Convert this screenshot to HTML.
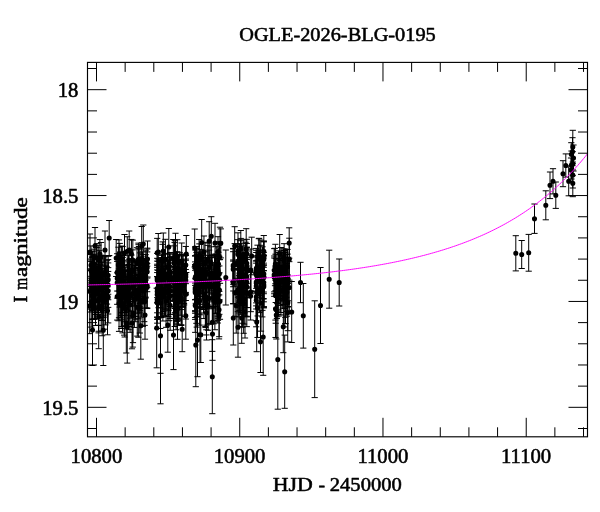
<!DOCTYPE html>
<html><head><meta charset="utf-8"><title>OGLE-2026-BLG-0195</title>
<style>
html,body{margin:0;padding:0;background:#fff;}
svg{display:block;font-family:"Liberation Serif",serif;fill:#000;}
text{stroke:#000;stroke-width:0.55px;stroke-linejoin:round;}
</style></head>
<body>
<svg width="600" height="512" viewBox="0 0 600 512" style="will-change:transform">
<rect x="0" y="0" width="600" height="512" fill="#fff"/>
<text x="239.2" y="40.7" font-size="19.8" textLength="196.6" lengthAdjust="spacingAndGlyphs">OGLE-2026-BLG-0195</text>
<text y="491.2" font-size="19.8"><tspan x="272.8" textLength="40" lengthAdjust="spacingAndGlyphs">HJD</tspan><tspan x="318.4">-</tspan><tspan x="329.8" textLength="72" lengthAdjust="spacingAndGlyphs">2450000</tspan></text>
<text transform="translate(26.8 302.4) rotate(-90)" font-size="19.8"><tspan x="0">I</tspan><tspan x="12.7" textLength="12" lengthAdjust="spacingAndGlyphs">m</tspan><tspan x="25.4" textLength="79.9" lengthAdjust="spacingAndGlyphs">agnitude</tspan></text>
<g font-size="20.7"><text x="96.4" y="463" text-anchor="middle">10800</text><text x="239.6" y="463" text-anchor="middle">10900</text><text x="382.9" y="463" text-anchor="middle">11000</text><text x="526.1" y="463" text-anchor="middle">11100</text><text x="78.4" y="97.0" text-anchor="end">18</text><text x="78.4" y="202.9" text-anchor="end">18.5</text><text x="78.4" y="308.7" text-anchor="end">19</text><text x="78.4" y="414.6" text-anchor="end">19.5</text></g>
<clipPath id="c"><rect x="87.5" y="62.4" width="500.0" height="374.4"/></clipPath>
<g clip-path="url(#c)">
<path d="M92.85 251.04V289.96M89.75 251.04h6.2M89.75 289.96h6.2M102.36 275.39V320.4M99.26 275.39h6.2M99.26 320.4h6.2M108.2 267.65V314.03M105.1 267.65h6.2M105.1 314.03h6.2M94.35 268.85V309.24M91.25 268.85h6.2M91.25 309.24h6.2M108.2 259.59V299.75M105.1 259.59h6.2M105.1 299.75h6.2M102.15 268.62V310.42M99.05 268.62h6.2M99.05 310.42h6.2M90.92 261.11V304.49M87.82 261.11h6.2M87.82 304.49h6.2M98.28 245.22V274.22M95.18 245.22h6.2M95.18 274.22h6.2M106.64 266.35V308.22M103.54 266.35h6.2M103.54 308.22h6.2M102.18 284.86V335.76M99.08 284.86h6.2M99.08 335.76h6.2M97.17 267.45V312.68M94.07 267.45h6.2M94.07 312.68h6.2M103.63 273.78V317.62M100.53 273.78h6.2M100.53 317.62h6.2M92.28 257.46V290.35M89.18 257.46h6.2M89.18 290.35h6.2M91.0 268.82V309.09M87.9 268.82h6.2M87.9 309.09h6.2M92.48 264.59V306.1M89.38 264.59h6.2M89.38 306.1h6.2M96.8 243.61V272.61M93.7 243.61h6.2M93.7 272.61h6.2M98.61 281.83V331.25M95.51 281.83h6.2M95.51 331.25h6.2M94.11 249.2V278.93M91.01 249.2h6.2M91.01 278.93h6.2M105.49 274.57V324.89M102.39 274.57h6.2M102.39 324.89h6.2M92.18 261.92V318.91M89.08 261.92h6.2M89.08 318.91h6.2M91.2 276.31V327.12M88.1 276.31h6.2M88.1 327.12h6.2M91.33 261.33V307.66M88.23 261.33h6.2M88.23 307.66h6.2M101.48 262.68V312.7M98.38 262.68h6.2M98.38 312.7h6.2M105.34 270.23V315.91M102.24 270.23h6.2M102.24 315.91h6.2M101.03 255.18V290.72M97.93 255.18h6.2M97.93 290.72h6.2M108.2 262.91V307.37M105.1 262.91h6.2M105.1 307.37h6.2M104.32 256.33V289.04M101.22 256.33h6.2M101.22 289.04h6.2M105.1 265.11V303.41M102.0 265.11h6.2M102.0 303.41h6.2M108.2 256.34V294.24M105.1 256.34h6.2M105.1 294.24h6.2M100.05 264.89V303.03M96.95 264.89h6.2M96.95 303.03h6.2M108.2 271.41V322.91M105.1 271.41h6.2M105.1 322.91h6.2M99.51 269.73V310.66M96.41 269.73h6.2M96.41 310.66h6.2M93.59 263.49V311.04M90.49 263.49h6.2M90.49 311.04h6.2M97.96 272.22V314.52M94.86 272.22h6.2M94.86 314.52h6.2M101.08 242.47V271.47M97.98 242.47h6.2M97.98 271.47h6.2M96.71 247.43V290.82M93.61 247.43h6.2M93.61 290.82h6.2M106.98 260.66V304.09M103.88 260.66h6.2M103.88 304.09h6.2M93.92 266.36V309.37M90.82 266.36h6.2M90.82 309.37h6.2M97.03 269.16V318.9M93.93 269.16h6.2M93.93 318.9h6.2M93.6 254.27V289.36M90.5 254.27h6.2M90.5 289.36h6.2M97.2 256.05V293.72M94.1 256.05h6.2M94.1 293.72h6.2M89.7 270.38V312.04M86.6 270.38h6.2M86.6 312.04h6.2M101.21 281.09V331.05M98.11 281.09h6.2M98.11 331.05h6.2M95.34 267.85V312.43M92.24 267.85h6.2M92.24 312.43h6.2M89.7 278.17V333.67M86.6 278.17h6.2M86.6 333.67h6.2M101.36 259.08V298.68M98.26 259.08h6.2M98.26 298.68h6.2M92.47 256.75V296.78M89.37 256.75h6.2M89.37 296.78h6.2M95.4 264.65V314.46M92.3 264.65h6.2M92.3 314.46h6.2M98.49 273.25V325.51M95.39 273.25h6.2M95.39 325.51h6.2M92.45 254.39V287.51M89.35 254.39h6.2M89.35 287.51h6.2M92.8 265.18V309.85M89.7 265.18h6.2M89.7 309.85h6.2M98.56 281.77V332.86M95.46 281.77h6.2M95.46 332.86h6.2M98.51 257.5V299.58M95.41 257.5h6.2M95.41 299.58h6.2M94.08 256.37V302.25M90.98 256.37h6.2M90.98 302.25h6.2M95.53 276.03V325.47M92.43 276.03h6.2M92.43 325.47h6.2M94.26 272.38V318.72M91.16 272.38h6.2M91.16 318.72h6.2M93.92 255.95V289.17M90.82 255.95h6.2M90.82 289.17h6.2M98.5 274.37V325.27M95.4 274.37h6.2M95.4 325.27h6.2M92.2 264.5V310.46M89.1 264.5h6.2M89.1 310.46h6.2M99.88 239.56V268.56M96.78 239.56h6.2M96.78 268.56h6.2M94.17 255.31V286.81M91.07 255.31h6.2M91.07 286.81h6.2M105.32 255.57V293.22M102.22 255.57h6.2M102.22 293.22h6.2M92.51 264.45V304.36M89.41 264.45h6.2M89.41 304.36h6.2M105.6 266.08V308.23M102.5 266.08h6.2M102.5 308.23h6.2M92.53 272.72V319.5M89.43 272.72h6.2M89.43 319.5h6.2M104.01 273.75V329.19M100.91 273.75h6.2M100.91 329.19h6.2M101.13 271.25V320.4M98.03 271.25h6.2M98.03 320.4h6.2M92.32 251.76V282.96M89.22 251.76h6.2M89.22 282.96h6.2M104.13 257.91V307.06M101.03 257.91h6.2M101.03 307.06h6.2M94.32 272.87V319.37M91.22 272.87h6.2M91.22 319.37h6.2M90.99 254.54V286.35M87.89 254.54h6.2M87.89 286.35h6.2M101.44 255.7V296.43M98.34 255.7h6.2M98.34 296.43h6.2M99.43 250.7V283.25M96.33 250.7h6.2M96.33 283.25h6.2M100.99 260.16V305.71M97.89 260.16h6.2M97.89 305.71h6.2M92.86 263.47V302.76M89.76 263.47h6.2M89.76 302.76h6.2M94.14 267.68V308.59M91.04 267.68h6.2M91.04 308.59h6.2M102.66 261.74V301.66M99.56 261.74h6.2M99.56 301.66h6.2M90.99 245.93V284.78M87.89 245.93h6.2M87.89 284.78h6.2M142.86 277.41V326.36M139.76 277.41h6.2M139.76 326.36h6.2M122.63 246.59V284.17M119.53 246.59h6.2M119.53 284.17h6.2M124.24 271.13V321.72M121.14 271.13h6.2M121.14 321.72h6.2M124.72 280.22V337.0M121.62 280.22h6.2M121.62 337.0h6.2M120.39 265.39V306.8M117.29 265.39h6.2M117.29 306.8h6.2M140.02 263.38V306.99M136.92 263.38h6.2M136.92 306.99h6.2M130.09 277.24V332.29M126.99 277.24h6.2M126.99 332.29h6.2M120.26 251.84V290.13M117.16 251.84h6.2M117.16 290.13h6.2M134.63 260.99V297.52M131.53 260.99h6.2M131.53 297.52h6.2M132.72 284.47V347.1M129.62 284.47h6.2M129.62 347.1h6.2M132.98 283.48V342.63M129.88 283.48h6.2M129.88 342.63h6.2M138.39 248.77V278.28M135.29 248.77h6.2M135.29 278.28h6.2M118.96 239.92V268.92M115.86 239.92h6.2M115.86 268.92h6.2M132.54 271.01V315.9M129.44 271.01h6.2M129.44 315.9h6.2M117.2 272.85V320.07M114.1 272.85h6.2M114.1 320.07h6.2M147.2 248.13V287.21M144.1 248.13h6.2M144.1 287.21h6.2M138.44 268.46V318.76M135.34 268.46h6.2M135.34 318.76h6.2M121.87 261.86V304.24M118.77 261.86h6.2M118.77 304.24h6.2M146.04 266.25V308.01M142.94 266.25h6.2M142.94 308.01h6.2M121.54 279.35V326.46M118.44 279.35h6.2M118.44 326.46h6.2M127.25 291.45V363.08M124.15 291.45h6.2M124.15 363.08h6.2M117.2 261.42V304.31M114.1 261.42h6.2M114.1 304.31h6.2M128.95 264.5V311.11M125.85 264.5h6.2M125.85 311.11h6.2M140.03 268.44V310.74M136.93 268.44h6.2M136.93 310.74h6.2M119.67 261.85V298.26M116.57 261.85h6.2M116.57 298.26h6.2M141.4 264.41V317.11M138.3 264.41h6.2M138.3 317.11h6.2M129.89 258.61V301.5M126.79 258.61h6.2M126.79 301.5h6.2M142.62 251.83V286.99M139.52 251.83h6.2M139.52 286.99h6.2M121.57 264.28V303.69M118.47 264.28h6.2M118.47 303.69h6.2M144.27 275.31V321.66M141.17 275.31h6.2M141.17 321.66h6.2M140.28 265.09V308.61M137.18 265.09h6.2M137.18 308.61h6.2M117.2 253.73V291.04M114.1 253.73h6.2M114.1 291.04h6.2M132.83 240.14V279.86M129.73 240.14h6.2M129.73 279.86h6.2M118.75 257.51V291.14M115.65 257.51h6.2M115.65 291.14h6.2M140.2 260.01V296.4M137.1 260.01h6.2M137.1 296.4h6.2M127.49 261.9V305.69M124.39 261.9h6.2M124.39 305.69h6.2M141.73 242.79V277.56M138.63 242.79h6.2M138.63 277.56h6.2M144.73 259.46V300.99M141.63 259.46h6.2M141.63 300.99h6.2M121.42 246.03V275.03M118.32 246.03h6.2M118.32 275.03h6.2M142.95 254.31V300.82M139.85 254.31h6.2M139.85 300.82h6.2M128.68 270.0V329.7M125.58 270.0h6.2M125.58 329.7h6.2M128.82 259.97V299.32M125.72 259.97h6.2M125.72 299.32h6.2M138.51 244.7V274.51M135.41 244.7h6.2M135.41 274.51h6.2M147.2 266.16V308.54M144.1 266.16h6.2M144.1 308.54h6.2M138.82 258.44V294.85M135.72 258.44h6.2M135.72 294.85h6.2M122.56 278.02V332.88M119.46 278.02h6.2M119.46 332.88h6.2M117.2 258.94V298.14M114.1 258.94h6.2M114.1 298.14h6.2M119.7 263.93V307.08M116.6 263.93h6.2M116.6 307.08h6.2M124.16 279.66V335.17M121.06 279.66h6.2M121.06 335.17h6.2M118.46 272.28V320.77M115.36 272.28h6.2M115.36 320.77h6.2M118.37 247.19V282.8M115.27 247.19h6.2M115.27 282.8h6.2M147.2 251.9V291.71M144.1 251.9h6.2M144.1 291.71h6.2M121.8 270.36V312.82M118.7 270.36h6.2M118.7 312.82h6.2M125.62 267.11V312.42M122.52 267.11h6.2M122.52 312.42h6.2M147.2 263.41V307.95M144.1 263.41h6.2M144.1 307.95h6.2M134.39 273.09V327.43M131.29 273.09h6.2M131.29 327.43h6.2M138.46 243.15V279.94M135.36 243.15h6.2M135.36 279.94h6.2M124.38 264.31V301.94M121.28 264.31h6.2M121.28 301.94h6.2M138.35 277.75V337.24M135.25 277.75h6.2M135.25 337.24h6.2M121.65 262.34V300.93M118.55 262.34h6.2M118.55 300.93h6.2M127.29 236.76V265.76M124.19 236.76h6.2M124.19 265.76h6.2M145.56 260.97V297.11M142.46 260.97h6.2M142.46 297.11h6.2M139.75 264.44V312.9M136.65 264.44h6.2M136.65 312.9h6.2M132.61 249.9V289.72M129.51 249.9h6.2M129.51 289.72h6.2M131.29 259.39V294.09M128.19 259.39h6.2M128.19 294.09h6.2M139.82 282.32V333.03M136.72 282.32h6.2M136.72 333.03h6.2M128.92 278.76V326.49M125.82 278.76h6.2M125.82 326.49h6.2M129.72 259.34V296.05M126.62 259.34h6.2M126.62 296.05h6.2M135.49 260.62V305.92M132.39 260.62h6.2M132.39 305.92h6.2M134.39 265.77V305.95M131.29 265.77h6.2M131.29 305.95h6.2M131.43 239.45V268.45M128.33 239.45h6.2M128.33 268.45h6.2M136.98 247.73V278.73M133.88 247.73h6.2M133.88 278.73h6.2M121.5 271.45V319.81M118.4 271.45h6.2M118.4 319.81h6.2M140.09 257.2V299.93M136.99 257.2h6.2M136.99 299.93h6.2M121.12 269.8V328.51M118.02 269.8h6.2M118.02 328.51h6.2M142.76 258.49V292.76M139.66 258.49h6.2M139.66 292.76h6.2M135.45 270.11V319.14M132.35 270.11h6.2M132.35 319.14h6.2M145.74 254.75V297.94M142.64 254.75h6.2M142.64 297.94h6.2M130.09 273.93V318.16M126.99 273.93h6.2M126.99 318.16h6.2M138.63 262.89V300.0M135.53 262.89h6.2M135.53 300.0h6.2M119.03 275.65V331.39M115.93 275.65h6.2M115.93 331.39h6.2M126.14 270.48V315.34M123.04 270.48h6.2M123.04 315.34h6.2M121.27 258.57V297.51M118.17 258.57h6.2M118.17 297.51h6.2M138.93 246.49V275.49M135.83 246.49h6.2M135.83 275.49h6.2M120.16 252.74V287.53M117.06 252.74h6.2M117.06 287.53h6.2M132.98 262.2V298.97M129.88 262.2h6.2M129.88 298.97h6.2M123.1 255.22V296.1M120.0 255.22h6.2M120.0 296.1h6.2M121.19 263.92V315.55M118.09 263.92h6.2M118.09 315.55h6.2M142.65 259.96V298.4M139.55 259.96h6.2M139.55 298.4h6.2M123.1 260.26V302.67M120.0 260.26h6.2M120.0 302.67h6.2M118.97 272.32V317.76M115.87 272.32h6.2M115.87 317.76h6.2M128.6 277.92V324.3M125.5 277.92h6.2M125.5 324.3h6.2M122.7 257.45V312.27M119.6 257.45h6.2M119.6 312.27h6.2M139.86 249.05V290.57M136.76 249.05h6.2M136.76 290.57h6.2M137.16 267.51V313.23M134.06 267.51h6.2M134.06 313.23h6.2M147.2 248.96V278.1M144.1 248.96h6.2M144.1 278.1h6.2M143.31 259.25V298.98M140.21 259.25h6.2M140.21 298.98h6.2M125.68 270.07V325.8M122.58 270.07h6.2M122.58 325.8h6.2M144.69 260.42V298.89M141.59 260.42h6.2M141.59 298.89h6.2M123.17 255.6V290.32M120.07 255.6h6.2M120.07 290.32h6.2M143.24 256.89V292.58M140.14 256.89h6.2M140.14 292.58h6.2M120.42 270.84V317.74M117.32 270.84h6.2M117.32 317.74h6.2M145.86 250.17V280.01M142.76 250.17h6.2M142.76 280.01h6.2M135.69 265.38V316.48M132.59 265.38h6.2M132.59 316.48h6.2M131.47 255.02V288.83M128.37 255.02h6.2M128.37 288.83h6.2M128.98 274.1V323.26M125.88 274.1h6.2M125.88 323.26h6.2M128.76 267.06V310.99M125.66 267.06h6.2M125.66 310.99h6.2M121.37 262.55V304.35M118.27 262.55h6.2M118.27 304.35h6.2M137.28 278.59V336.14M134.18 278.59h6.2M134.18 336.14h6.2M127.47 265.63V310.03M124.37 265.63h6.2M124.37 310.03h6.2M144.7 278.29V325.39M141.6 278.29h6.2M141.6 325.39h6.2M119.78 243.4V272.4M116.68 243.4h6.2M116.68 272.4h6.2M133.08 259.64V304.11M129.98 259.64h6.2M129.98 304.11h6.2M135.68 275.48V321.75M132.58 275.48h6.2M132.58 321.75h6.2M139.98 252.89V303.49M136.88 252.89h6.2M136.88 303.49h6.2M138.36 261.59V298.87M135.26 261.59h6.2M135.26 298.87h6.2M129.66 260.89V303.84M126.56 260.89h6.2M126.56 303.84h6.2M140.19 258.05V298.79M137.09 258.05h6.2M137.09 298.79h6.2M138.99 261.49V298.54M135.89 261.49h6.2M135.89 298.54h6.2M128.51 255.21V298.57M125.41 255.21h6.2M125.41 298.57h6.2M161.57 254.17V290.34M158.47 254.17h6.2M158.47 290.34h6.2M175.94 268.15V312.7M172.84 268.15h6.2M172.84 312.7h6.2M161.2 261.25V299.78M158.1 261.25h6.2M158.1 299.78h6.2M182.84 254.17V286.85M179.74 254.17h6.2M179.74 286.85h6.2M161.2 257.59V295.99M158.1 257.59h6.2M158.1 295.99h6.2M176.98 256.75V293.73M173.88 256.75h6.2M173.88 293.73h6.2M157.2 276.78V328.58M154.1 276.78h6.2M154.1 328.58h6.2M177.22 270.41V324.01M174.12 270.41h6.2M174.12 324.01h6.2M162.9 260.05V297.29M159.8 260.05h6.2M159.8 297.29h6.2M177.53 278.49V339.29M174.43 278.49h6.2M174.43 339.29h6.2M181.61 264.01V309.59M178.51 264.01h6.2M178.51 309.59h6.2M157.2 264.21V312.81M154.1 264.21h6.2M154.1 312.81h6.2M167.4 257.62V296.1M164.3 257.62h6.2M164.3 296.1h6.2M160.36 277.3V328.47M157.26 277.3h6.2M157.26 328.47h6.2M166.17 260.51V309.15M163.07 260.51h6.2M163.07 309.15h6.2M167.57 247.0V286.82M164.47 247.0h6.2M164.47 286.82h6.2M185.8 255.29V294.24M182.7 255.29h6.2M182.7 294.24h6.2M168.48 265.84V309.01M165.38 265.84h6.2M165.38 309.01h6.2M177.3 239.69V273.38M174.2 239.69h6.2M174.2 273.38h6.2M166.08 275.07V327.32M162.98 275.07h6.2M162.98 327.32h6.2M164.56 269.1V315.67M161.46 269.1h6.2M161.46 315.67h6.2M170.41 267.33V314.57M167.31 267.33h6.2M167.31 314.57h6.2M175.51 233.26V273.95M172.41 233.26h6.2M172.41 273.95h6.2M175.74 262.93V320.36M172.64 262.93h6.2M172.64 320.36h6.2M169.68 253.89V289.96M166.58 253.89h6.2M166.58 289.96h6.2M161.29 272.5V316.49M158.19 272.5h6.2M158.19 316.49h6.2M181.3 271.44V324.73M178.2 271.44h6.2M178.2 324.73h6.2M174.65 266.72V308.42M171.55 266.72h6.2M171.55 308.42h6.2M175.42 269.07V312.41M172.32 269.07h6.2M172.32 312.41h6.2M178.53 274.43V325.03M175.43 274.43h6.2M175.43 325.03h6.2M162.62 244.34V273.34M159.52 244.34h6.2M159.52 273.34h6.2M185.8 246.46V283.66M182.7 246.46h6.2M182.7 283.66h6.2M180.09 267.26V315.21M176.99 267.26h6.2M176.99 315.21h6.2M180.24 259.52V300.13M177.14 259.52h6.2M177.14 300.13h6.2M178.39 270.9V318.14M175.29 270.9h6.2M175.29 318.14h6.2M162.69 269.09V313.97M159.59 269.09h6.2M159.59 313.97h6.2M177.43 251.7V284.92M174.33 251.7h6.2M174.33 284.92h6.2M164.62 253.71V298.23M161.52 253.71h6.2M161.52 298.23h6.2M174.27 259.29V294.68M171.17 259.29h6.2M171.17 294.68h6.2M183.03 262.02V307.17M179.93 262.02h6.2M179.93 307.17h6.2M174.15 260.62V300.95M171.05 260.62h6.2M171.05 300.95h6.2M157.2 272.59V316.96M154.1 272.59h6.2M154.1 316.96h6.2M178.98 260.55V300.13M175.88 260.55h6.2M175.88 300.13h6.2M185.8 260.3V300.51M182.7 260.3h6.2M182.7 300.51h6.2M179.73 252.65V290.08M176.63 252.65h6.2M176.63 290.08h6.2M177.22 269.96V321.39M174.12 269.96h6.2M174.12 321.39h6.2M158.73 261.46V299.06M155.63 261.46h6.2M155.63 299.06h6.2M165.58 254.02V294.06M162.48 254.02h6.2M162.48 294.06h6.2M157.2 238.37V267.37M154.1 238.37h6.2M154.1 267.37h6.2M170.16 280.16V330.28M167.06 280.16h6.2M167.06 330.28h6.2M177.24 271.96V318.29M174.14 271.96h6.2M174.14 318.29h6.2M181.28 274.25V325.52M178.18 274.25h6.2M178.18 325.52h6.2M168.9 274.37V320.7M165.8 274.37h6.2M165.8 320.7h6.2M168.45 260.46V296.92M165.35 260.46h6.2M165.35 296.92h6.2M162.86 271.28V320.99M159.76 271.28h6.2M159.76 320.99h6.2M157.2 258.32V302.25M154.1 258.32h6.2M154.1 302.25h6.2M177.09 259.56V303.81M173.99 259.56h6.2M173.99 303.81h6.2M169.87 266.4V306.46M166.77 266.4h6.2M166.77 306.46h6.2M175.48 258.49V297.02M172.38 258.49h6.2M172.38 297.02h6.2M178.73 261.84V303.19M175.63 261.84h6.2M175.63 303.19h6.2M169.96 273.26V318.4M166.86 273.26h6.2M166.86 318.4h6.2M183.0 255.95V290.18M179.9 255.95h6.2M179.9 290.18h6.2M173.22 262.96V301.3M170.12 262.96h6.2M170.12 301.3h6.2M174.56 242.39V277.85M171.46 242.39h6.2M171.46 277.85h6.2M181.15 261.21V307.04M178.05 261.21h6.2M178.05 307.04h6.2M165.47 266.09V316.35M162.37 266.09h6.2M162.37 316.35h6.2M179.03 255.15V307.88M175.93 255.15h6.2M175.93 307.88h6.2M165.4 239.31V279.63M162.3 239.31h6.2M162.3 279.63h6.2M178.56 273.6V319.22M175.46 273.6h6.2M175.46 319.22h6.2M175.77 260.14V301.12M172.67 260.14h6.2M172.67 301.12h6.2M185.8 269.53V319.04M182.7 269.53h6.2M182.7 319.04h6.2M174.65 272.6V326.53M171.55 272.6h6.2M171.55 326.53h6.2M178.41 254.79V293.77M175.31 254.79h6.2M175.31 293.77h6.2M157.2 276.48V323.16M154.1 276.48h6.2M154.1 323.16h6.2M178.58 269.16V320.77M175.48 269.16h6.2M175.48 320.77h6.2M174.58 269.25V312.99M171.48 269.25h6.2M171.48 312.99h6.2M164.07 258.42V294.96M160.97 258.42h6.2M160.97 294.96h6.2M179.94 260.62V302.88M176.84 260.62h6.2M176.84 302.88h6.2M162.74 273.08V317.12M159.64 273.08h6.2M159.64 317.12h6.2M174.3 271.51V318.34M171.2 271.51h6.2M171.2 318.34h6.2M176.97 255.31V294.58M173.87 255.31h6.2M173.87 294.58h6.2M158.34 258.99V318.56M155.24 258.99h6.2M155.24 318.56h6.2M175.65 263.88V308.46M172.55 263.88h6.2M172.55 308.46h6.2M160.4 262.25V303.18M157.3 262.25h6.2M157.3 303.18h6.2M184.03 264.13V303.56M180.93 264.13h6.2M180.93 303.56h6.2M162.63 241.9V280.51M159.53 241.9h6.2M159.53 280.51h6.2M175.99 267.85V316.14M172.89 267.85h6.2M172.89 316.14h6.2M184.13 264.33V304.95M181.03 264.33h6.2M181.03 304.95h6.2M169.85 254.0V289.07M166.75 254.0h6.2M166.75 289.07h6.2M157.2 269.92V319.43M154.1 269.92h6.2M154.1 319.43h6.2M168.36 263.96V304.72M165.26 263.96h6.2M165.26 304.72h6.2M176.13 274.96V329.77M173.03 274.96h6.2M173.03 329.77h6.2M174.02 245.86V280.18M170.92 245.86h6.2M170.92 280.18h6.2M185.8 255.53V293.17M182.7 255.53h6.2M182.7 293.17h6.2M158.53 261.32V307.73M155.43 261.32h6.2M155.43 307.73h6.2M159.77 259.3V301.64M156.67 259.3h6.2M156.67 301.64h6.2M168.4 268.73V316.45M165.3 268.73h6.2M165.3 316.45h6.2M170.16 256.31V297.69M167.06 256.31h6.2M167.06 297.69h6.2M181.45 254.3V287.43M178.35 254.3h6.2M178.35 287.43h6.2M161.29 270.24V317.46M158.19 270.24h6.2M158.19 317.46h6.2M157.2 261.12V297.61M154.1 261.12h6.2M154.1 297.61h6.2M178.89 272.49V320.02M175.79 272.49h6.2M175.79 320.02h6.2M169.9 252.47V295.12M166.8 252.47h6.2M166.8 295.12h6.2M157.2 253.46V302.99M154.1 253.46h6.2M154.1 302.99h6.2M184.58 266.28V316.64M181.48 266.28h6.2M181.48 316.64h6.2M157.2 265.63V317.6M154.1 265.63h6.2M154.1 317.6h6.2M174.85 240.34V269.72M171.75 240.34h6.2M171.75 269.72h6.2M168.68 259.78V310.67M165.58 259.78h6.2M165.58 310.67h6.2M185.8 259.07V295.02M182.7 259.07h6.2M182.7 295.02h6.2M170.06 257.96V299.06M166.96 257.96h6.2M166.96 299.06h6.2M163.23 266.84V311.51M160.13 266.84h6.2M160.13 311.51h6.2M182.64 259.96V306.25M179.54 259.96h6.2M179.54 306.25h6.2M174.67 262.01V307.05M171.57 262.01h6.2M171.57 307.05h6.2M161.54 255.36V294.36M158.44 255.36h6.2M158.44 294.36h6.2M159.71 260.5V304.11M156.61 260.5h6.2M156.61 304.11h6.2M199.24 259.41V296.27M196.14 259.41h6.2M196.14 296.27h6.2M195.2 264.49V311.74M192.1 264.49h6.2M192.1 311.74h6.2M218.33 252.37V289.81M215.23 252.37h6.2M215.23 289.81h6.2M217.73 269.95V316.17M214.63 269.95h6.2M214.63 316.17h6.2M218.31 247.88V280.17M215.21 247.88h6.2M215.21 280.17h6.2M199.63 263.53V307.51M196.53 263.53h6.2M196.53 307.51h6.2M195.2 249.99V285.39M192.1 249.99h6.2M192.1 285.39h6.2M208.1 280.22V330.27M205.0 280.22h6.2M205.0 330.27h6.2M206.51 285.5V340.0M203.41 285.5h6.2M203.41 340.0h6.2M209.41 260.54V306.3M206.31 260.54h6.2M206.31 306.3h6.2M215.42 255.11V292.15M212.32 255.11h6.2M212.32 292.15h6.2M217.98 272.06V318.23M214.88 272.06h6.2M214.88 318.23h6.2M208.03 255.71V292.1M204.93 255.71h6.2M204.93 292.1h6.2M214.74 255.19V293.29M211.64 255.19h6.2M211.64 293.29h6.2M195.2 266.49V310.88M192.1 266.49h6.2M192.1 310.88h6.2M199.34 243.87V272.87M196.24 243.87h6.2M196.24 272.87h6.2M201.0 256.23V291.94M197.9 256.23h6.2M197.9 291.94h6.2M204.9 257.48V295.61M201.8 257.48h6.2M201.8 295.61h6.2M218.22 255.41V295.88M215.12 255.41h6.2M215.12 295.88h6.2M199.76 257.61V314.8M196.66 257.61h6.2M196.66 314.8h6.2M217.56 267.93V313.01M214.46 267.93h6.2M214.46 313.01h6.2M199.14 258.44V308.2M196.04 258.44h6.2M196.04 308.2h6.2M199.65 276.83V325.1M196.55 276.83h6.2M196.55 325.1h6.2M205.03 242.3V284.01M201.93 242.3h6.2M201.93 284.01h6.2M208.07 272.46V324.23M204.97 272.46h6.2M204.97 324.23h6.2M217.74 258.4V294.93M214.64 258.4h6.2M214.64 294.93h6.2M212.28 293.05V351.37M209.18 293.05h6.2M209.18 351.37h6.2M202.56 254.9V299.06M199.46 254.9h6.2M199.46 299.06h6.2M198.09 254.5V290.22M194.99 254.5h6.2M194.99 290.22h6.2M211.18 255.65V290.75M208.08 255.65h6.2M208.08 290.75h6.2M214.87 274.65V329.75M211.77 274.65h6.2M211.77 329.75h6.2M206.34 280.28V329.79M203.24 280.28h6.2M203.24 329.79h6.2M199.77 256.74V298.09M196.67 256.74h6.2M196.67 298.09h6.2M203.58 255.02V288.9M200.48 255.02h6.2M200.48 288.9h6.2M206.45 279.52V334.94M203.35 279.52h6.2M203.35 334.94h6.2M218.0 251.93V285.0M214.9 251.93h6.2M214.9 285.0h6.2M219.36 256.31V291.31M216.26 256.31h6.2M216.26 291.31h6.2M196.35 275.35V323.32M193.25 275.35h6.2M193.25 323.32h6.2M196.71 277.13V327.11M193.61 277.13h6.2M193.61 327.11h6.2M202.0 253.03V288.71M198.9 253.03h6.2M198.9 288.71h6.2M195.2 255.54V299.81M192.1 255.54h6.2M192.1 299.81h6.2M209.14 273.04V323.7M206.04 273.04h6.2M206.04 323.7h6.2M220.8 228.86V257.86M217.7 228.86h6.2M217.7 257.86h6.2M215.44 269.82V313.42M212.34 269.82h6.2M212.34 313.42h6.2M203.58 261.72V299.95M200.48 261.72h6.2M200.48 299.95h6.2M195.2 246.74V283.12M192.1 246.74h6.2M192.1 283.12h6.2M213.91 264.07V306.42M210.81 264.07h6.2M210.81 306.42h6.2M215.48 256.21V300.91M212.38 256.21h6.2M212.38 300.91h6.2M217.81 263.2V303.72M214.71 263.2h6.2M214.71 303.72h6.2M217.83 275.37V323.02M214.73 275.37h6.2M214.73 323.02h6.2M214.81 255.62V294.06M211.71 255.62h6.2M211.71 294.06h6.2M210.98 246.79V279.44M207.88 246.79h6.2M207.88 279.44h6.2M205.35 268.49V326.47M202.25 268.49h6.2M202.25 326.47h6.2M203.96 235.99V267.77M200.86 235.99h6.2M200.86 267.77h6.2M216.23 269.22V321.85M213.13 269.22h6.2M213.13 321.85h6.2M212.08 264.01V306.44M208.98 264.01h6.2M208.98 306.44h6.2M219.38 265.93V314.31M216.28 265.93h6.2M216.28 314.31h6.2M214.73 254.17V300.43M211.63 254.17h6.2M211.63 300.43h6.2M200.67 265.25V307.98M197.57 265.25h6.2M197.57 307.98h6.2M197.83 270.77V316.94M194.73 270.77h6.2M194.73 316.94h6.2M195.2 270.31V313.28M192.1 270.31h6.2M192.1 313.28h6.2M196.76 246.49V275.63M193.66 246.49h6.2M193.66 275.63h6.2M205.44 251.77V292.64M202.34 251.77h6.2M202.34 292.64h6.2M219.46 259.77V299.75M216.36 259.77h6.2M216.36 299.75h6.2M203.57 260.66V312.97M200.47 260.66h6.2M200.47 312.97h6.2M195.2 261.9V317.53M192.1 261.9h6.2M192.1 317.53h6.2M218.16 254.71V294.32M215.06 254.71h6.2M215.06 294.32h6.2M206.39 260.91V300.53M203.29 260.91h6.2M203.29 300.53h6.2M209.58 263.96V306.58M206.48 263.96h6.2M206.48 306.58h6.2M213.62 271.41V323.85M210.52 271.41h6.2M210.52 323.85h6.2M196.78 254.39V299.14M193.68 254.39h6.2M193.68 299.14h6.2M209.5 265.45V308.8M206.4 265.45h6.2M206.4 308.8h6.2M202.35 261.13V309.49M199.25 261.13h6.2M199.25 309.49h6.2M200.6 249.37V290.15M197.5 249.37h6.2M197.5 290.15h6.2M195.2 278.82V332.37M192.1 278.82h6.2M192.1 332.37h6.2M207.84 245.39V275.09M204.74 245.39h6.2M204.74 275.09h6.2M195.2 265.36V319.4M192.1 265.36h6.2M192.1 319.4h6.2M196.8 271.77V316.36M193.7 271.77h6.2M193.7 316.36h6.2M211.9 254.85V294.03M208.8 254.85h6.2M208.8 294.03h6.2M212.0 257.28V301.85M208.9 257.28h6.2M208.9 301.85h6.2M217.99 236.7V266.41M214.89 236.7h6.2M214.89 266.41h6.2M219.5 241.77V272.85M216.4 241.77h6.2M216.4 272.85h6.2M207.93 243.02V275.74M204.83 243.02h6.2M204.83 275.74h6.2M216.38 254.03V287.22M213.28 254.03h6.2M213.28 287.22h6.2M199.29 256.06V292.27M196.19 256.06h6.2M196.19 292.27h6.2M211.15 257.71V298.6M208.05 257.71h6.2M208.05 298.6h6.2M219.05 280.55V338.91M215.95 280.55h6.2M215.95 338.91h6.2M195.2 256.19V299.63M192.1 256.19h6.2M192.1 299.63h6.2M216.21 246.37V290.56M213.11 246.37h6.2M213.11 290.56h6.2M199.86 254.2V296.42M196.76 254.2h6.2M196.76 296.42h6.2M195.2 268.18V310.82M192.1 268.18h6.2M192.1 310.82h6.2M209.14 250.14V285.04M206.04 250.14h6.2M206.04 285.04h6.2M217.99 264.52V320.36M214.89 264.52h6.2M214.89 320.36h6.2M203.83 269.58V318.55M200.73 269.58h6.2M200.73 318.55h6.2M199.61 258.78V304.35M196.51 258.78h6.2M196.51 304.35h6.2M203.87 257.65V293.71M200.77 257.65h6.2M200.77 293.71h6.2M199.31 267.94V314.05M196.21 267.94h6.2M196.21 314.05h6.2M209.29 262.03V300.09M206.19 262.03h6.2M206.19 300.09h6.2M196.73 248.37V282.24M193.63 248.37h6.2M193.63 282.24h6.2M199.12 252.01V293.66M196.02 252.01h6.2M196.02 293.66h6.2M216.92 263.85V306.87M213.82 263.85h6.2M213.82 306.87h6.2M199.09 239.47V270.98M195.99 239.47h6.2M195.99 270.98h6.2M213.6 265.33V308.06M210.5 265.33h6.2M210.5 308.06h6.2M206.49 270.46V325.16M203.39 270.46h6.2M203.39 325.16h6.2M196.42 252.39V284.93M193.32 252.39h6.2M193.32 284.93h6.2M205.53 275.44V327.56M202.43 275.44h6.2M202.43 327.56h6.2M244.05 274.49V324.09M240.95 274.49h6.2M240.95 324.09h6.2M239.04 250.69V296.38M235.94 250.69h6.2M235.94 296.38h6.2M239.29 247.0V280.58M236.19 247.0h6.2M236.19 280.58h6.2M238.93 270.23V316.96M235.83 270.23h6.2M235.83 316.96h6.2M240.49 263.91V305.62M237.39 263.91h6.2M237.39 305.62h6.2M233.2 261.12V303.64M230.1 261.12h6.2M230.1 303.64h6.2M240.83 257.56V294.16M237.73 257.56h6.2M237.73 294.16h6.2M239.16 259.55V302.3M236.06 259.55h6.2M236.06 302.3h6.2M240.62 257.73V298.21M237.52 257.73h6.2M237.52 298.21h6.2M246.8 254.0V288.74M243.7 254.0h6.2M243.7 288.74h6.2M246.8 251.01V286.88M243.7 251.01h6.2M243.7 286.88h6.2M239.16 249.76V283.94M236.06 249.76h6.2M236.06 283.94h6.2M233.2 248.42V284.31M230.1 248.42h6.2M230.1 284.31h6.2M246.8 265.94V307.61M243.7 265.94h6.2M243.7 307.61h6.2M235.08 269.37V316.36M231.98 269.37h6.2M231.98 316.36h6.2M246.8 239.3V268.3M243.7 239.3h6.2M243.7 268.3h6.2M233.2 259.99V303.81M230.1 259.99h6.2M230.1 303.81h6.2M239.32 266.13V310.48M236.22 266.13h6.2M236.22 310.48h6.2M237.49 244.93V279.63M234.39 244.93h6.2M234.39 279.63h6.2M237.81 268.33V311.69M234.71 268.33h6.2M234.71 311.69h6.2M240.8 261.4V303.11M237.7 261.4h6.2M237.7 303.11h6.2M240.63 269.86V314.75M237.53 269.86h6.2M237.53 314.75h6.2M243.83 239.78V268.97M240.73 239.78h6.2M240.73 268.97h6.2M241.07 255.15V295.47M237.97 255.15h6.2M237.97 295.47h6.2M246.8 247.52V279.18M243.7 247.52h6.2M243.7 279.18h6.2M242.31 255.42V292.5M239.21 255.42h6.2M239.21 292.5h6.2M240.98 254.6V293.66M237.88 254.6h6.2M237.88 293.66h6.2M245.59 242.25V277.48M242.49 242.25h6.2M242.49 277.48h6.2M246.8 259.2V297.88M243.7 259.2h6.2M243.7 297.88h6.2M236.23 278.27V333.1M233.13 278.27h6.2M233.13 333.1h6.2M246.8 269.67V316.88M243.7 269.67h6.2M243.7 316.88h6.2M246.8 255.82V297.31M243.7 255.82h6.2M243.7 297.31h6.2M240.82 238.41V280.74M237.72 238.41h6.2M237.72 280.74h6.2M240.62 240.72V273.79M237.52 240.72h6.2M237.52 273.79h6.2M240.86 252.97V293.06M237.76 252.97h6.2M237.76 293.06h6.2M243.67 267.44V316.57M240.57 267.44h6.2M240.57 316.57h6.2M240.61 253.22V290.08M237.51 253.22h6.2M237.51 290.08h6.2M240.76 256.52V295.12M237.66 256.52h6.2M237.66 295.12h6.2M246.8 243.46V283.64M243.7 243.46h6.2M243.7 283.64h6.2M246.8 257.44V307.55M243.7 257.44h6.2M243.7 307.55h6.2M246.8 259.63V326.65M243.7 259.63h6.2M243.7 326.65h6.2M239.63 246.43V293.48M236.53 246.43h6.2M236.53 293.48h6.2M243.65 274.06V333.29M240.55 274.06h6.2M240.55 333.29h6.2M233.2 248.91V281.82M230.1 248.91h6.2M230.1 281.82h6.2M246.8 247.06V287.29M243.7 247.06h6.2M243.7 287.29h6.2M240.57 256.18V292.13M237.47 256.18h6.2M237.47 292.13h6.2M239.37 262.88V313.03M236.27 262.88h6.2M236.27 313.03h6.2M243.49 257.48V293.7M240.39 257.48h6.2M240.39 293.7h6.2M239.07 255.62V298.17M235.97 255.62h6.2M235.97 298.17h6.2M240.89 264.24V312.61M237.79 264.24h6.2M237.79 312.61h6.2M241.1 243.81V276.0M238.0 243.81h6.2M238.0 276.0h6.2M244.01 257.39V293.69M240.91 257.39h6.2M240.91 293.69h6.2M239.07 275.66V326.57M235.97 275.66h6.2M235.97 326.57h6.2M233.2 251.69V286.76M230.1 251.69h6.2M230.1 286.76h6.2M246.8 269.7V316.32M243.7 269.7h6.2M243.7 316.32h6.2M245.4 267.66V316.25M242.3 267.66h6.2M242.3 316.25h6.2M239.61 243.71V280.47M236.51 243.71h6.2M236.51 280.47h6.2M242.64 245.88V276.6M239.54 245.88h6.2M239.54 276.6h6.2M242.45 276.08V327.25M239.35 276.08h6.2M239.35 327.25h6.2M242.41 270.57V323.27M239.31 270.57h6.2M239.31 323.27h6.2M243.92 268.92V316.3M240.82 268.92h6.2M240.82 316.3h6.2M234.67 243.61V286.04M231.57 243.61h6.2M231.57 286.04h6.2M237.84 239.68V268.68M234.74 239.68h6.2M234.74 268.68h6.2M242.61 263.64V303.75M239.51 263.64h6.2M239.51 303.75h6.2M263.8 255.09V293.71M260.7 255.09h6.2M260.7 293.71h6.2M257.52 245.18V287.89M254.42 245.18h6.2M254.42 287.89h6.2M257.35 260.17V301.09M254.25 260.17h6.2M254.25 301.09h6.2M263.8 252.36V301.82M260.7 252.36h6.2M260.7 301.82h6.2M257.66 269.89V315.96M254.56 269.89h6.2M254.56 315.96h6.2M256.2 250.3V291.03M253.1 250.3h6.2M253.1 291.03h6.2M256.2 252.52V291.7M253.1 252.52h6.2M253.1 291.7h6.2M256.2 261.04V302.87M253.1 261.04h6.2M253.1 302.87h6.2M257.5 278.04V337.45M254.4 278.04h6.2M254.4 337.45h6.2M256.2 248.42V288.34M253.1 248.42h6.2M253.1 288.34h6.2M256.2 256.23V293.75M253.1 256.23h6.2M253.1 293.75h6.2M262.62 259.39V298.76M259.52 259.39h6.2M259.52 298.76h6.2M262.14 257.64V298.46M259.04 257.64h6.2M259.04 298.46h6.2M262.45 267.01V310.35M259.35 267.01h6.2M259.35 310.35h6.2M259.5 259.54V297.94M256.4 259.54h6.2M256.4 297.94h6.2M259.43 252.03V286.23M256.33 252.03h6.2M256.33 286.23h6.2M263.8 263.13V306.8M260.7 263.13h6.2M260.7 306.8h6.2M260.65 245.31V287.16M257.55 245.31h6.2M257.55 287.16h6.2M262.53 246.78V278.98M259.43 246.78h6.2M259.43 278.98h6.2M263.8 256.01V298.82M260.7 256.01h6.2M260.7 298.82h6.2M260.56 259.16V302.88M257.46 259.16h6.2M257.46 302.88h6.2M263.8 265.34V307.95M260.7 265.34h6.2M260.7 307.95h6.2M259.6 266.96V312.61M256.5 266.96h6.2M256.5 312.61h6.2M263.8 264.85V307.12M260.7 264.85h6.2M260.7 307.12h6.2M260.37 250.0V295.34M257.27 250.0h6.2M257.27 295.34h6.2M263.8 258.05V307.01M260.7 258.05h6.2M260.7 307.01h6.2M260.54 260.0V303.97M257.44 260.0h6.2M257.44 303.97h6.2M256.2 273.1V320.76M253.1 273.1h6.2M253.1 320.76h6.2M261.01 275.37V331.17M257.91 275.37h6.2M257.91 331.17h6.2M257.6 255.52V295.47M254.5 255.52h6.2M254.5 295.47h6.2M263.8 240.91V270.66M260.7 240.91h6.2M260.7 270.66h6.2M263.8 235.54V267.26M260.7 235.54h6.2M260.7 267.26h6.2M263.8 241.76V277.28M260.7 241.76h6.2M260.7 277.28h6.2M259.41 250.32V291.78M256.31 250.32h6.2M256.31 291.78h6.2M258.84 238.73V267.73M255.74 238.73h6.2M255.74 267.73h6.2M263.8 241.68V270.68M260.7 241.68h6.2M260.7 270.68h6.2M256.2 260.79V305.89M253.1 260.79h6.2M253.1 305.89h6.2M262.32 266.64V316.91M259.22 266.64h6.2M259.22 316.91h6.2M257.48 257.62V297.17M254.38 257.62h6.2M254.38 297.17h6.2M256.2 273.78V326.8M253.1 273.78h6.2M253.1 326.8h6.2M263.8 255.35V292.02M260.7 255.35h6.2M260.7 292.02h6.2M256.2 263.17V308.99M253.1 263.17h6.2M253.1 308.99h6.2M281.04 247.49V286.93M277.94 247.49h6.2M277.94 286.93h6.2M279.95 258.19V305.4M276.85 258.19h6.2M276.85 305.4h6.2M274.2 248.67V291.87M271.1 248.67h6.2M271.1 291.87h6.2M285.3 269.13V317.38M282.2 269.13h6.2M282.2 317.38h6.2M283.95 251.08V286.43M280.85 251.08h6.2M280.85 286.43h6.2M285.39 252.28V291.38M282.29 252.28h6.2M282.29 291.38h6.2M278.7 268.8V316.03M275.6 268.8h6.2M275.6 316.03h6.2M285.1 248.97V297.43M282.0 248.97h6.2M282.0 297.43h6.2M275.52 280.36V337.46M272.42 280.36h6.2M272.42 337.46h6.2M289.3 238.19V280.17M286.2 238.19h6.2M286.2 280.17h6.2M285.49 272.56V323.59M282.39 272.56h6.2M282.39 323.59h6.2M278.03 267.93V314.44M274.93 267.93h6.2M274.93 314.44h6.2M283.95 252.52V301.16M280.85 252.52h6.2M280.85 301.16h6.2M275.51 254.2V290.76M272.41 254.2h6.2M272.41 290.76h6.2M284.15 243.7V277.19M281.05 243.7h6.2M281.05 277.19h6.2M287.82 275.03V330.7M284.72 275.03h6.2M284.72 330.7h6.2M284.92 252.64V287.77M281.82 252.64h6.2M281.82 287.77h6.2M285.34 262.27V304.92M282.24 262.27h6.2M282.24 304.92h6.2M284.79 257.78V299.41M281.69 257.78h6.2M281.69 299.41h6.2M275.38 244.28V283.75M272.28 244.28h6.2M272.28 283.75h6.2M277.15 262.69V303.66M274.05 262.69h6.2M274.05 303.66h6.2M285.37 260.14V303.06M282.27 260.14h6.2M282.27 303.06h6.2M275.73 258.57V302.52M272.63 258.57h6.2M272.63 302.52h6.2M278.38 259.29V303.07M275.28 259.29h6.2M275.28 303.07h6.2M274.2 256.01V293.78M271.1 256.01h6.2M271.1 293.78h6.2M277.11 267.02V311.14M274.01 267.02h6.2M274.01 311.14h6.2M284.07 267.65V326.91M280.97 267.65h6.2M280.97 326.91h6.2M286.33 254.41V297.26M283.23 254.41h6.2M283.23 297.26h6.2M289.3 261.68V313.48M286.2 261.68h6.2M286.2 313.48h6.2M288.05 259.01V306.56M284.95 259.01h6.2M284.95 306.56h6.2M284.97 250.66V286.17M281.87 250.66h6.2M281.87 286.17h6.2M288.19 257.21V300.8M285.09 257.21h6.2M285.09 300.8h6.2M287.55 249.44V283.63M284.45 249.44h6.2M284.45 283.63h6.2M284.06 252.95V295.43M280.96 252.95h6.2M280.96 295.43h6.2M282.77 256.05V308.17M279.67 256.05h6.2M279.67 308.17h6.2M283.45 248.86V293.17M280.35 248.86h6.2M280.35 293.17h6.2M285.24 257.51V297.98M282.14 257.51h6.2M282.14 297.98h6.2M274.2 257.96V296.3M271.1 257.96h6.2M271.1 296.3h6.2M286.94 263.48V311.41M283.84 263.48h6.2M283.84 311.41h6.2M280.96 255.16V299.35M277.86 255.16h6.2M277.86 299.35h6.2M282.12 253.73V298.85M279.02 253.73h6.2M279.02 298.85h6.2M279.45 253.11V288.47M276.35 253.11h6.2M276.35 288.47h6.2M275.44 270.82V320.07M272.34 270.82h6.2M272.34 320.07h6.2M287.62 254.07V307.17M284.52 254.07h6.2M284.52 307.17h6.2M283.54 257.85V304.5M280.44 257.85h6.2M280.44 304.5h6.2M277.0 254.65V295.09M273.9 254.65h6.2M273.9 295.09h6.2M278.69 252.53V298.5M275.59 252.53h6.2M275.59 298.5h6.2M281.07 256.13V296.94M277.97 256.13h6.2M277.97 296.94h6.2M276.87 268.55V318.56M273.77 268.55h6.2M273.77 318.56h6.2M284.16 250.56V290.76M281.06 250.56h6.2M281.06 290.76h6.2M280.95 266.22V314.93M277.85 266.22h6.2M277.85 314.93h6.2M284.87 265.23V308.53M281.77 265.23h6.2M281.77 308.53h6.2M286.85 268.3V316.2M283.75 268.3h6.2M283.75 316.2h6.2M285.18 267.38V323.7M282.08 267.38h6.2M282.08 323.7h6.2M280.7 267.59V312.51M277.6 267.59h6.2M277.6 312.51h6.2M282.83 254.78V295.47M279.73 254.78h6.2M279.73 295.47h6.2M277.28 265.93V316.8M274.18 265.93h6.2M274.18 316.8h6.2M278.7 250.85V295.25M275.6 250.85h6.2M275.6 295.25h6.2M275.74 265.62V323.24M272.64 265.62h6.2M272.64 323.24h6.2M287.72 283.21V341.89M284.62 283.21h6.2M284.62 341.89h6.2M278.44 258.51V301.93M275.34 258.51h6.2M275.34 301.93h6.2M279.62 260.44V300.3M276.52 260.44h6.2M276.52 300.3h6.2M250.8 249V291M247.7 249h6.2M247.7 291h6.2M250.6 272V320M247.5 272h6.2M247.5 320h6.2M95 227.5V264.5M91.9 227.5h6.2M91.9 264.5h6.2M90 234V270M86.9 234h6.2M86.9 270h6.2M109.2 220.5V255.5M106.1 220.5h6.2M106.1 255.5h6.2M105 231V269M101.9 231h6.2M101.9 269h6.2M116.2 239.5V276.5M113.1 239.5h6.2M113.1 276.5h6.2M124.5 234.5V271.5M121.4 234.5h6.2M121.4 271.5h6.2M129.2 231V269M126.1 231h6.2M126.1 269h6.2M143.3 225V263M140.2 225h6.2M140.2 263h6.2M141.7 226.5V265.5M138.6 226.5h6.2M138.6 265.5h6.2M147.5 241V277M144.4 241h6.2M144.4 277h6.2M158.3 233.5V270.5M155.2 233.5h6.2M155.2 270.5h6.2M163.3 233V269M160.2 233h6.2M160.2 269h6.2M168.8 228.5V265.5M165.7 228.5h6.2M165.7 265.5h6.2M173.3 239.5V276.5M170.2 239.5h6.2M170.2 276.5h6.2M181.7 243V279M178.6 243h6.2M178.6 279h6.2M186.3 235.5V272.5M183.2 235.5h6.2M183.2 272.5h6.2M194.7 229V267M191.6 229h6.2M191.6 267h6.2M201.7 219.5V265.5M198.6 219.5h6.2M198.6 265.5h6.2M211.3 216.7V255.9M208.2 216.7h6.2M208.2 255.9h6.2M209.2 221.7V260.3M206.1 221.7h6.2M206.1 260.3h6.2M215 223.3V262.7M211.9 223.3h6.2M211.9 262.7h6.2M220 227.2V259.4M216.9 227.2h6.2M216.9 259.4h6.2M225.8 250.0V305.0M222.7 250.0h6.2M222.7 305.0h6.2M234.7 226.7V265.3M231.6 226.7h6.2M231.6 265.3h6.2M238 232.8V269.2M234.9 232.8h6.2M234.9 269.2h6.2M240.8 230.5V267.5M237.7 230.5h6.2M237.7 267.5h6.2M246.2 228.7V269.7M243.1 228.7h6.2M243.1 269.7h6.2M251.7 237.2V274.8M248.6 237.2h6.2M248.6 274.8h6.2M259.2 238.3V275.7M256.1 238.3h6.2M256.1 275.7h6.2M260.8 240V278M257.7 240h6.2M257.7 278h6.2M279.7 234.5V272.5M276.6 234.5h6.2M276.6 272.5h6.2M275 248.3V285.7M271.9 248.3h6.2M271.9 285.7h6.2M289.2 227.8V258.2M286.1 227.8h6.2M286.1 258.2h6.2M92.5 294.5V365.5M89.4 294.5h6.2M89.4 365.5h6.2M103.3 295.1V365.5M100.2 295.1h6.2M100.2 365.5h6.2M98.7 284.7V348.7M95.6 284.7h6.2M95.6 348.7h6.2M107.5 286.8V334.8M104.4 286.8h6.2M104.4 334.8h6.2M126.3 293V353M123.2 293h6.2M123.2 353h6.2M132 297.2V348.8M128.9 297.2h6.2M128.9 348.8h6.2M140.8 292.4V359.2M137.7 292.4h6.2M137.7 359.2h6.2M145 290.8V339.2M141.9 290.8h6.2M141.9 339.2h6.2M156.7 288.2V367.8M153.6 288.2h6.2M153.6 367.8h6.2M160.5 307.8V403.8M157.4 307.8h6.2M157.4 403.8h6.2M160.5 298.3V373.3M157.4 298.3h6.2M157.4 373.3h6.2M167.8 297.8V352.2M164.7 297.8h6.2M164.7 352.2h6.2M173.5 300.4V369.6M170.4 300.4h6.2M170.4 369.6h6.2M182.2 306.7V351.7M179.1 306.7h6.2M179.1 351.7h6.2M185.8 292.4V339.2M182.7 292.4h6.2M182.7 339.2h6.2M195.8 303.3V386.7M192.7 303.3h6.2M192.7 386.7h6.2M197.5 303.3V376.7M194.4 303.3h6.2M194.4 376.7h6.2M200.8 306.9V362.5M197.7 306.9h6.2M197.7 362.5h6.2M200 306.9V362.5M196.9 306.9h6.2M196.9 362.5h6.2M212.3 339.7V413.7M209.2 339.7h6.2M209.2 413.7h6.2M212.5 307.7V360.3M209.4 307.7h6.2M209.4 360.3h6.2M219.2 294.9V336.7M216.1 294.9h6.2M216.1 336.7h6.2M220 283.3V319.3M216.9 283.3h6.2M216.9 319.3h6.2M233.3 291V345M230.2 291h6.2M230.2 345h6.2M238 297.2V357.2M234.9 297.2h6.2M234.9 357.2h6.2M241.7 292.7V343.3M238.6 292.7h6.2M238.6 343.3h6.2M245 286V338M241.9 286h6.2M241.9 338h6.2M250.8 272.3V311.7M247.7 272.3h6.2M247.7 311.7h6.2M256.7 292.3V351.7M253.6 292.3h6.2M253.6 351.7h6.2M260.5 310.9V372.5M257.4 310.9h6.2M257.4 372.5h6.2M263.2 298.7V375.3M260.1 298.7h6.2M260.1 375.3h6.2M277.8 309.8V409.2M274.7 309.8h6.2M274.7 409.2h6.2M284.7 335.1V408.3M281.6 335.1h6.2M281.6 408.3h6.2M276.3 291V339M273.2 291h6.2M273.2 339h6.2M283.3 300.7V352.7M280.2 300.7h6.2M280.2 352.7h6.2M291.7 281.5V342.5M288.6 281.5h6.2M288.6 342.5h6.2M300.5 262.3V302.7M297.4 262.3h6.2M297.4 302.7h6.2M303.3 283.5V348.1M300.2 283.5h6.2M300.2 348.1h6.2M314.7 300.8V397.6M311.6 300.8h6.2M311.6 397.6h6.2M320.5 267.5V343.5M317.4 267.5h6.2M317.4 343.5h6.2M329.2 250.2V308.2M326.1 250.2h6.2M326.1 308.2h6.2M339.2 259.0V306.0M336.1 259.0h6.2M336.1 306.0h6.2M515.8 235.7V270.9M512.7 235.7h6.2M512.7 270.9h6.2M521.7 240.5V268.5M518.6 240.5h6.2M518.6 268.5h6.2M528.7 234.4V271.2M525.6 234.4h6.2M525.6 271.2h6.2M534.5 204.0V233.4M531.4 204.0h6.2M531.4 233.4h6.2M545.8 190.8V219.8M542.7 190.8h6.2M542.7 219.8h6.2M555.8 182.0V208.4M552.7 182.0h6.2M552.7 208.4h6.2M550 172.0V198.6M546.9 172.0h6.2M546.9 198.6h6.2M553 168.7V193.9M549.9 168.7h6.2M549.9 193.9h6.2M563 160.7V186.7M559.9 160.7h6.2M559.9 186.7h6.2M565.8 153.9V177.1M562.7 153.9h6.2M562.7 177.1h6.2M568.7 166.8V195.8M565.6 166.8h6.2M565.6 195.8h6.2M572.8 130.3V163.7M569.7 130.3h6.2M569.7 163.7h6.2M572.5 137.7V165.7M569.4 137.7h6.2M569.4 165.7h6.2M571.3 142.7V165.7M568.2 142.7h6.2M568.2 165.7h6.2M572.8 151.7V175.7M569.7 151.7h6.2M569.7 175.7h6.2M571.5 151V179M568.4 151h6.2M568.4 179h6.2M572.8 162V188M569.7 162h6.2M569.7 188h6.2M572.8 169.9V196.7M569.7 169.9h6.2M569.7 196.7h6.2M571 158V182M567.9 158h6.2M567.9 182h6.2M573.5 145V171M570.4 145h6.2M570.4 171h6.2" fill="none" stroke="#000" stroke-width="1"/>
<path d="M92.85 270.5h0M102.36 297.9h0M108.2 290.84h0M94.35 289.04h0M108.2 279.67h0M102.15 289.52h0M90.92 282.8h0M98.28 259.72h0M106.64 287.28h0M102.18 310.31h0M97.17 290.06h0M103.63 295.7h0M92.28 273.91h0M91.0 288.95h0M92.48 285.35h0M96.8 258.11h0M98.61 306.54h0M94.11 264.07h0M105.49 299.73h0M92.18 290.42h0M91.2 301.72h0M91.33 284.49h0M101.48 287.69h0M105.34 293.07h0M101.03 272.95h0M108.2 285.14h0M104.32 272.68h0M105.1 284.26h0M108.2 275.29h0M100.05 283.96h0M108.2 297.16h0M99.51 290.2h0M93.59 287.26h0M97.96 293.37h0M101.08 256.97h0M96.71 269.13h0M106.98 282.37h0M93.92 287.87h0M97.03 294.03h0M93.6 271.82h0M97.2 274.88h0M89.7 291.21h0M101.21 306.07h0M95.34 290.14h0M89.7 305.92h0M101.36 278.88h0M92.47 276.77h0M95.4 289.55h0M98.49 299.38h0M92.45 270.95h0M92.8 287.51h0M98.56 307.32h0M98.51 278.54h0M94.08 279.31h0M95.53 300.75h0M94.26 295.55h0M93.92 272.56h0M98.5 299.82h0M92.2 287.48h0M99.88 254.06h0M94.17 271.06h0M105.32 274.4h0M92.51 284.4h0M105.6 287.16h0M92.53 296.11h0M104.01 301.47h0M101.13 295.83h0M92.32 267.36h0M104.13 282.48h0M94.32 296.12h0M90.99 270.45h0M101.44 276.07h0M99.43 266.98h0M100.99 282.94h0M92.86 283.11h0M94.14 288.14h0M102.66 281.7h0M90.99 265.35h0M142.86 301.89h0M122.63 265.38h0M124.24 296.43h0M124.72 308.61h0M120.39 286.09h0M140.02 285.19h0M130.09 304.76h0M120.26 270.99h0M134.63 279.26h0M132.72 315.79h0M132.98 313.06h0M138.39 263.53h0M118.96 254.42h0M132.54 293.45h0M117.2 296.46h0M147.2 267.67h0M138.44 293.61h0M121.87 283.05h0M146.04 287.13h0M121.54 302.91h0M127.25 327.27h0M117.2 282.87h0M128.95 287.81h0M140.03 289.59h0M119.67 280.06h0M141.4 290.76h0M129.89 280.05h0M142.62 269.41h0M121.57 283.98h0M144.27 298.48h0M140.28 286.85h0M117.2 272.39h0M132.83 260.0h0M118.75 274.32h0M140.2 278.2h0M127.49 283.8h0M141.73 260.18h0M144.73 280.23h0M121.42 260.53h0M142.95 277.56h0M128.68 299.85h0M128.82 279.65h0M138.51 259.61h0M147.2 287.35h0M138.82 276.64h0M122.56 305.45h0M117.2 278.54h0M119.7 285.5h0M124.16 307.42h0M118.46 296.53h0M118.37 265.0h0M147.2 271.8h0M121.8 291.59h0M125.62 289.76h0M147.2 285.68h0M134.39 300.26h0M138.46 261.55h0M124.38 283.12h0M138.35 307.49h0M121.65 281.64h0M127.29 251.26h0M145.56 279.04h0M139.75 288.67h0M132.61 269.81h0M131.29 276.74h0M139.82 307.67h0M128.92 302.63h0M129.72 277.7h0M135.49 283.27h0M134.39 285.86h0M131.43 253.95h0M136.98 263.23h0M121.5 295.63h0M140.09 278.56h0M121.12 299.16h0M142.76 275.63h0M135.45 294.63h0M145.74 276.35h0M130.09 296.04h0M138.63 281.44h0M119.03 303.52h0M126.14 292.91h0M121.27 278.04h0M138.93 260.99h0M120.16 270.14h0M132.98 280.58h0M123.1 275.66h0M121.19 289.74h0M142.65 279.18h0M123.1 281.47h0M118.97 295.04h0M128.6 301.11h0M122.7 284.86h0M139.86 269.81h0M137.16 290.37h0M147.2 263.53h0M143.31 279.11h0M125.68 297.94h0M144.69 279.66h0M123.17 272.96h0M143.24 274.74h0M120.42 294.29h0M145.86 265.09h0M135.69 290.93h0M131.47 271.92h0M128.98 298.68h0M128.76 289.03h0M121.37 283.45h0M137.28 307.36h0M127.47 287.83h0M144.7 301.84h0M119.78 257.9h0M133.08 281.87h0M135.68 298.62h0M139.98 278.19h0M138.36 280.23h0M129.66 282.36h0M140.19 278.42h0M138.99 280.02h0M128.51 276.89h0M161.57 272.26h0M175.94 290.42h0M161.2 280.52h0M182.84 270.51h0M161.2 276.79h0M176.98 275.24h0M157.2 302.68h0M177.22 297.21h0M162.9 278.67h0M177.53 308.89h0M181.61 286.8h0M157.2 288.51h0M167.4 276.86h0M160.36 302.88h0M166.17 284.83h0M167.57 266.91h0M185.8 274.76h0M168.48 287.42h0M177.3 256.54h0M166.08 301.2h0M164.56 292.38h0M170.41 290.95h0M175.51 253.61h0M175.74 291.64h0M169.68 271.93h0M161.29 294.5h0M181.3 298.09h0M174.65 287.57h0M175.42 290.74h0M178.53 299.73h0M162.62 258.84h0M185.8 265.06h0M180.09 291.24h0M180.24 279.82h0M178.39 294.52h0M162.69 291.53h0M177.43 268.31h0M164.62 275.97h0M174.27 276.98h0M183.03 284.6h0M174.15 280.79h0M157.2 294.77h0M178.98 280.34h0M185.8 280.4h0M179.73 271.36h0M177.22 295.67h0M158.73 280.26h0M165.58 274.04h0M157.2 252.87h0M170.16 305.22h0M177.24 295.13h0M181.28 299.89h0M168.9 297.54h0M168.45 278.69h0M162.86 296.14h0M157.2 280.29h0M177.09 281.68h0M169.87 286.43h0M175.48 277.76h0M178.73 282.51h0M169.96 295.83h0M183.0 273.07h0M173.22 282.13h0M174.56 260.12h0M181.15 284.13h0M165.47 291.22h0M179.03 281.51h0M165.4 259.47h0M178.56 296.41h0M175.77 280.63h0M185.8 294.29h0M174.65 299.57h0M178.41 274.28h0M157.2 299.82h0M178.58 294.97h0M174.58 291.12h0M164.07 276.69h0M179.94 281.75h0M162.74 295.1h0M174.3 294.93h0M176.97 274.95h0M158.34 288.77h0M175.65 286.17h0M160.4 282.72h0M184.03 283.84h0M162.63 261.21h0M175.99 291.99h0M184.13 284.64h0M169.85 271.54h0M157.2 294.67h0M168.36 284.34h0M176.13 302.36h0M174.02 263.02h0M185.8 274.35h0M158.53 284.52h0M159.77 280.47h0M168.4 292.59h0M170.16 277.0h0M181.45 270.87h0M161.29 293.85h0M157.2 279.37h0M178.89 296.26h0M169.9 273.79h0M157.2 278.22h0M184.58 291.46h0M157.2 291.61h0M174.85 255.03h0M168.68 285.22h0M185.8 277.05h0M170.06 278.51h0M163.23 289.18h0M182.64 283.1h0M174.67 284.53h0M161.54 274.86h0M159.71 282.31h0M199.24 277.84h0M195.2 288.11h0M218.33 271.09h0M217.73 293.06h0M218.31 264.02h0M199.63 285.52h0M195.2 267.69h0M208.1 305.25h0M206.51 312.75h0M209.41 283.42h0M215.42 273.63h0M217.98 295.15h0M208.03 273.91h0M214.74 274.24h0M195.2 288.69h0M199.34 258.37h0M201.0 274.08h0M204.9 276.54h0M218.22 275.65h0M199.76 286.21h0M217.56 290.47h0M199.14 283.32h0M199.65 300.97h0M205.03 263.16h0M208.07 298.34h0M217.74 276.67h0M212.28 322.21h0M202.56 276.98h0M198.09 272.36h0M211.18 273.2h0M214.87 302.2h0M206.34 305.04h0M199.77 277.42h0M203.58 271.96h0M206.45 307.23h0M218.0 268.46h0M219.36 273.81h0M196.35 299.34h0M196.71 302.12h0M202.0 270.87h0M195.2 277.68h0M209.14 298.37h0M220.8 243.36h0M215.44 291.62h0M203.58 280.83h0M195.2 264.93h0M213.91 285.25h0M215.48 278.56h0M217.81 283.46h0M217.83 299.2h0M214.81 274.84h0M210.98 263.11h0M205.35 297.48h0M203.96 251.88h0M216.23 295.54h0M212.08 285.23h0M219.38 290.12h0M214.73 277.3h0M200.67 286.61h0M197.83 293.85h0M195.2 291.8h0M196.76 261.06h0M205.44 272.21h0M219.46 279.76h0M203.57 286.81h0M195.2 289.72h0M218.16 274.51h0M206.39 280.72h0M209.58 285.27h0M213.62 297.63h0M196.78 276.76h0M209.5 287.13h0M202.35 285.31h0M200.6 269.76h0M195.2 305.59h0M207.84 260.24h0M195.2 292.38h0M196.8 294.06h0M211.9 274.44h0M212.0 279.57h0M217.99 251.56h0M219.5 257.31h0M207.93 259.38h0M216.38 270.63h0M199.29 274.16h0M211.15 278.15h0M219.05 309.73h0M195.2 277.91h0M216.21 268.46h0M199.86 275.31h0M195.2 289.5h0M209.14 267.59h0M217.99 292.44h0M203.83 294.06h0M199.61 281.57h0M203.87 275.68h0M199.31 290.99h0M209.29 281.06h0M196.73 265.31h0M199.12 272.83h0M216.92 285.36h0M199.09 255.23h0M213.6 286.7h0M206.49 297.81h0M196.42 268.66h0M205.53 301.5h0M244.05 299.29h0M239.04 273.53h0M239.29 263.79h0M238.93 293.6h0M240.49 284.76h0M233.2 282.38h0M240.83 275.86h0M239.16 280.92h0M240.62 277.97h0M246.8 271.37h0M246.8 268.95h0M239.16 266.85h0M233.2 266.36h0M246.8 286.77h0M235.08 292.86h0M246.8 253.8h0M233.2 281.9h0M239.32 288.3h0M237.49 262.28h0M237.81 290.01h0M240.8 282.25h0M240.63 292.31h0M243.83 254.38h0M241.07 275.31h0M246.8 263.35h0M242.31 273.96h0M240.98 274.13h0M245.59 259.86h0M246.8 278.54h0M236.23 305.69h0M246.8 293.27h0M246.8 276.56h0M240.82 259.57h0M240.62 257.25h0M240.86 273.02h0M243.67 292.0h0M240.61 271.65h0M240.76 275.82h0M246.8 263.55h0M246.8 282.49h0M246.8 293.14h0M239.63 269.95h0M243.65 303.68h0M233.2 265.37h0M246.8 267.17h0M240.57 274.16h0M239.37 287.96h0M243.49 275.59h0M239.07 276.89h0M240.89 288.43h0M241.1 259.91h0M244.01 275.54h0M239.07 301.11h0M233.2 269.23h0M246.8 293.01h0M245.4 291.96h0M239.61 262.09h0M242.64 261.24h0M242.45 301.66h0M242.41 296.92h0M243.92 292.61h0M234.67 264.82h0M237.84 254.18h0M242.61 283.69h0M263.8 274.4h0M257.52 266.53h0M257.35 280.63h0M263.8 277.09h0M257.66 292.92h0M256.2 270.66h0M256.2 272.11h0M256.2 281.95h0M257.5 307.74h0M256.2 268.38h0M256.2 274.99h0M262.62 279.07h0M262.14 278.05h0M262.45 288.68h0M259.5 278.74h0M259.43 269.13h0M263.8 284.96h0M260.65 266.23h0M262.53 262.88h0M263.8 277.41h0M260.56 281.02h0M263.8 286.64h0M259.6 289.78h0M263.8 285.98h0M260.37 272.67h0M263.8 282.53h0M260.54 281.99h0M256.2 296.93h0M261.01 303.27h0M257.6 275.49h0M263.8 255.79h0M263.8 251.4h0M263.8 259.52h0M259.41 271.05h0M258.84 253.23h0M263.8 256.18h0M256.2 283.34h0M262.32 291.77h0M257.48 277.39h0M256.2 300.29h0M263.8 273.68h0M256.2 286.08h0M281.04 267.21h0M279.95 281.8h0M274.2 270.27h0M285.3 293.26h0M283.95 268.75h0M285.39 271.83h0M278.7 292.41h0M285.1 273.2h0M275.52 308.91h0M289.3 259.18h0M285.49 298.07h0M278.03 291.19h0M283.95 276.84h0M275.51 272.48h0M284.15 260.45h0M287.82 302.86h0M284.92 270.2h0M285.34 283.59h0M284.79 278.6h0M275.38 264.02h0M277.15 283.18h0M285.37 281.6h0M275.73 280.54h0M278.38 281.18h0M274.2 274.89h0M277.11 289.08h0M284.07 297.28h0M286.33 275.84h0M289.3 287.58h0M288.05 282.79h0M284.97 268.41h0M288.19 279.0h0M287.55 266.54h0M284.06 274.19h0M282.77 282.11h0M283.45 271.02h0M285.24 277.74h0M274.2 277.13h0M286.94 287.44h0M280.96 277.26h0M282.12 276.29h0M279.45 270.79h0M275.44 295.45h0M287.62 280.62h0M283.54 281.17h0M277.0 274.87h0M278.69 275.52h0M281.07 276.53h0M276.87 293.55h0M284.16 270.66h0M280.95 290.58h0M284.87 286.88h0M286.85 292.25h0M285.18 295.54h0M280.7 290.05h0M282.83 275.13h0M277.28 291.36h0M278.7 273.05h0M275.74 294.43h0M287.72 312.55h0M278.44 280.22h0M279.62 280.37h0M250.8 270h0M250.6 296h0M95 246h0M90 252h0M109.2 238h0M105 250h0M116.2 258h0M124.5 253h0M129.2 250h0M143.3 244h0M141.7 246h0M147.5 259h0M158.3 252h0M163.3 251h0M168.8 247h0M173.3 258h0M181.7 261h0M186.3 254h0M194.7 248h0M201.7 242.5h0M211.3 236.3h0M209.2 241h0M215 243h0M220 243.3h0M225.8 277.5h0M234.7 246h0M238 251h0M240.8 249h0M246.2 249.2h0M251.7 256h0M259.2 257h0M260.8 259h0M279.7 253.5h0M275 267h0M289.2 243h0M92.5 330h0M103.3 330.3h0M98.7 316.7h0M107.5 310.8h0M126.3 323h0M132 323h0M140.8 325.8h0M145 315h0M156.7 328h0M160.5 355.8h0M160.5 335.8h0M167.8 325h0M173.5 335h0M182.2 329.2h0M185.8 315.8h0M195.8 345h0M197.5 340h0M200.8 334.7h0M200 334.7h0M212.3 376.7h0M212.5 334h0M219.2 315.8h0M220 301.3h0M233.3 318h0M238 327.2h0M241.7 318h0M245 312h0M250.8 292h0M256.7 322h0M260.5 341.7h0M263.2 337h0M277.8 359.5h0M284.7 371.7h0M276.3 315h0M283.3 326.7h0M291.7 312h0M300.5 282.5h0M303.3 315.8h0M314.7 349.2h0M320.5 305.5h0M329.2 279.2h0M339.2 282.5h0M515.8 253.3h0M521.7 254.5h0M528.7 252.8h0M534.5 218.7h0M545.8 205.3h0M555.8 195.2h0M550 185.3h0M553 181.3h0M563 173.7h0M565.8 165.5h0M568.7 181.3h0M572.8 147h0M572.5 151.7h0M571.3 154.2h0M572.8 163.7h0M571.5 165h0M572.8 175h0M572.8 183.3h0M571 170h0M573.5 158h0" fill="none" stroke="#000" stroke-width="5.1" stroke-linecap="round"/>
</g>
<path d="M87.5 284.97 L89.5 284.93 L91.5 284.89 L93.5 284.84 L95.5 284.8 L97.5 284.76 L99.5 284.72 L101.5 284.67 L103.5 284.63 L105.5 284.58 L107.5 284.54 L109.5 284.49 L111.5 284.45 L113.5 284.4 L115.5 284.35 L117.5 284.3 L119.5 284.25 L121.5 284.2 L123.5 284.15 L125.5 284.1 L127.5 284.05 L129.5 284.0 L131.5 283.94 L133.5 283.89 L135.5 283.84 L137.5 283.78 L139.5 283.72 L141.5 283.67 L143.5 283.61 L145.5 283.55 L147.5 283.49 L149.5 283.43 L151.5 283.37 L153.5 283.31 L155.5 283.25 L157.5 283.18 L159.5 283.12 L161.5 283.05 L163.5 282.99 L165.5 282.92 L167.5 282.85 L169.5 282.78 L171.5 282.72 L173.5 282.64 L175.5 282.57 L177.5 282.5 L179.5 282.43 L181.5 282.35 L183.5 282.27 L185.5 282.2 L187.5 282.12 L189.5 282.04 L191.5 281.96 L193.5 281.88 L195.5 281.8 L197.5 281.71 L199.5 281.63 L201.5 281.54 L203.5 281.45 L205.5 281.36 L207.5 281.27 L209.5 281.18 L211.5 281.09 L213.5 281.0 L215.5 280.9 L217.5 280.8 L219.5 280.7 L221.5 280.6 L223.5 280.5 L225.5 280.4 L227.5 280.3 L229.5 280.19 L231.5 280.08 L233.5 279.97 L235.5 279.86 L237.5 279.75 L239.5 279.64 L241.5 279.52 L243.5 279.4 L245.5 279.28 L247.5 279.16 L249.5 279.04 L251.5 278.91 L253.5 278.79 L255.5 278.66 L257.5 278.53 L259.5 278.4 L261.5 278.26 L263.5 278.12 L265.5 277.99 L267.5 277.84 L269.5 277.7 L271.5 277.56 L273.5 277.41 L275.5 277.26 L277.5 277.11 L279.5 276.95 L281.5 276.79 L283.5 276.63 L285.5 276.47 L287.5 276.31 L289.5 276.14 L291.5 275.97 L293.5 275.8 L295.5 275.62 L297.5 275.44 L299.5 275.26 L301.5 275.08 L303.5 274.89 L305.5 274.7 L307.5 274.51 L309.5 274.31 L311.5 274.11 L313.5 273.91 L315.5 273.7 L317.5 273.49 L319.5 273.28 L321.5 273.07 L323.5 272.85 L325.5 272.62 L327.5 272.4 L329.5 272.16 L331.5 271.93 L333.5 271.69 L335.5 271.45 L337.5 271.2 L339.5 270.95 L341.5 270.7 L343.5 270.44 L345.5 270.18 L347.5 269.91 L349.5 269.64 L351.5 269.36 L353.5 269.08 L355.5 268.79 L357.5 268.5 L359.5 268.2 L361.5 267.9 L363.5 267.6 L365.5 267.29 L367.5 266.97 L369.5 266.65 L371.5 266.32 L373.5 265.99 L375.5 265.65 L377.5 265.3 L379.5 264.95 L381.5 264.59 L383.5 264.23 L385.5 263.86 L387.5 263.49 L389.5 263.1 L391.5 262.72 L393.5 262.32 L395.5 261.92 L397.5 261.51 L399.5 261.09 L401.5 260.66 L403.5 260.23 L405.5 259.79 L407.5 259.35 L409.5 258.89 L411.5 258.43 L413.5 257.95 L415.5 257.47 L417.5 256.99 L419.5 256.49 L421.5 255.98 L423.5 255.47 L425.5 254.94 L427.5 254.41 L429.5 253.86 L431.5 253.31 L433.5 252.74 L435.5 252.17 L437.5 251.59 L439.5 250.99 L441.5 250.38 L443.5 249.77 L445.5 249.14 L447.5 248.5 L449.5 247.85 L451.5 247.18 L453.5 246.51 L455.5 245.82 L457.5 245.11 L459.5 244.4 L461.5 243.67 L463.5 242.93 L465.5 242.18 L467.5 241.41 L469.5 240.62 L471.5 239.82 L473.5 239.01 L475.5 238.18 L477.5 237.34 L479.5 236.48 L481.5 235.6 L483.5 234.71 L485.5 233.8 L487.5 232.87 L489.5 231.93 L491.5 230.96 L493.5 229.98 L495.5 228.98 L497.5 227.96 L499.5 226.92 L501.5 225.86 L503.5 224.79 L505.5 223.69 L507.5 222.56 L509.5 221.42 L511.5 220.26 L513.5 219.07 L515.5 217.86 L517.5 216.62 L519.5 215.37 L521.5 214.08 L523.5 212.78 L525.5 211.44 L527.5 210.08 L529.5 208.7 L531.5 207.28 L533.5 205.84 L535.5 204.37 L537.5 202.87 L539.5 201.34 L541.5 199.78 L543.5 198.19 L545.5 196.57 L547.5 194.91 L549.5 193.23 L551.5 191.5 L553.5 189.75 L555.5 187.96 L557.5 186.13 L559.5 184.26 L561.5 182.36 L563.5 180.42 L565.5 178.44 L567.5 176.42 L569.5 174.35 L571.5 172.25 L573.5 170.1 L575.5 167.91 L577.5 165.67 L579.5 163.39 L581.5 161.06 L583.5 158.68 L585.5 156.25 L587.5 153.77" fill="none" stroke="#f0f" stroke-width="0.95"/>
<path d="M96.5 62.4v19M96.5 436.8v-19M125.15 62.4v9.5M125.15 436.8v-9.5M153.8 62.4v9.5M153.8 436.8v-9.5M182.44 62.4v9.5M182.44 436.8v-9.5M211.09 62.4v9.5M211.09 436.8v-9.5M239.74 62.4v19M239.74 436.8v-19M268.39 62.4v9.5M268.39 436.8v-9.5M297.04 62.4v9.5M297.04 436.8v-9.5M325.68 62.4v9.5M325.68 436.8v-9.5M354.33 62.4v9.5M354.33 436.8v-9.5M382.98 62.4v19M382.98 436.8v-19M411.63 62.4v9.5M411.63 436.8v-9.5M440.28 62.4v9.5M440.28 436.8v-9.5M468.92 62.4v9.5M468.92 436.8v-9.5M497.57 62.4v9.5M497.57 436.8v-9.5M526.22 62.4v19M526.22 436.8v-19M554.87 62.4v9.5M554.87 436.8v-9.5M583.52 62.4v9.5M583.52 436.8v-9.5M87.5 68.5h9.5M587.5 68.5h-9.5M87.5 89.68h19M587.5 89.68h-19M87.5 110.86h9.5M587.5 110.86h-9.5M87.5 132.03h9.5M587.5 132.03h-9.5M87.5 153.21h9.5M587.5 153.21h-9.5M87.5 174.38h9.5M587.5 174.38h-9.5M87.5 195.56h19M587.5 195.56h-19M87.5 216.74h9.5M587.5 216.74h-9.5M87.5 237.91h9.5M587.5 237.91h-9.5M87.5 259.09h9.5M587.5 259.09h-9.5M87.5 280.26h9.5M587.5 280.26h-9.5M87.5 301.44h19M587.5 301.44h-19M87.5 322.62h9.5M587.5 322.62h-9.5M87.5 343.79h9.5M587.5 343.79h-9.5M87.5 364.97h9.5M587.5 364.97h-9.5M87.5 386.14h9.5M587.5 386.14h-9.5M87.5 407.32h19M587.5 407.32h-19M87.5 428.5h9.5M587.5 428.5h-9.5" fill="none" stroke="#000" stroke-width="1"/>
<rect x="87.5" y="62.4" width="500.0" height="374.4" fill="none" stroke="#000" stroke-width="1.15"/>
</svg>
</body></html>
